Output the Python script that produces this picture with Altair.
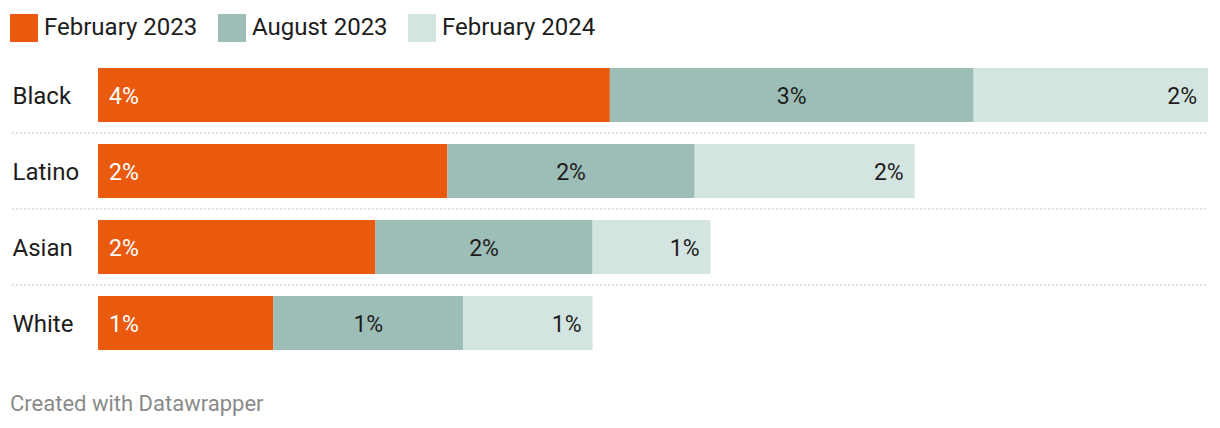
import altair as alt
import pandas as pd

categories = ["Black", "Latino", "Asian", "White"]
periods = ["February 2023", "August 2023", "February 2024"]
colors = ["#e95a0e", "#9dbdb7", "#d4e5e1"]

feb_2023 = [3.56, 2.43, 1.93, 1.22]
aug_2023 = [2.53, 1.72, 1.51, 1.32]
feb_2024 = [1.63, 1.53, 0.82, 0.90]

feb_2023_labels = ["4%", "2%", "2%", "1%"]
aug_2023_labels = ["3%", "2%", "2%", "1%"]
feb_2024_labels = ["2%", "2%", "1%", "1%"]

footer = "Created with Datawrapper"

rows = []
for i, cat in enumerate(categories):
    start = 0.0
    for p, vals, labs in zip(periods, [feb_2023, aug_2023, feb_2024],
                             [feb_2023_labels, aug_2023_labels, feb_2024_labels]):
        v = vals[i]
        rows.append({"category": cat, "period": p, "value": v,
                     "start": start, "end": start + v,
                     "mid": start + v / 2, "label": labs[i]})
        start += v
df = pd.DataFrame(rows)

xmax = max(a + b + c for a, b, c in zip(feb_2023, aug_2023, feb_2024))
xscale = alt.Scale(domain=[0, xmax], nice=False, zero=True)
yscale = alt.Scale(domain=categories, paddingInner=22 / 76, paddingOuter=11 / 76)

base = alt.Chart(df)

yenc = alt.Y("category:N", sort=categories, scale=yscale, title=None,
             axis=alt.Axis(domain=False, ticks=False, labelAlign="left",
                           labelPadding=86, labelFontSize=24, labelColor="#1d1d1d",
                           labelFont="Roboto", labelBaseline="middle", labelOffset=2))

bars = base.mark_bar().encode(
    x=alt.X("start:Q", scale=xscale, axis=None),
    x2="end:Q",
    y=yenc,
    color=alt.Color("period:N", scale=alt.Scale(domain=periods, range=colors),
                    legend=alt.Legend(orient="none", legendX=-88, legendY=-43,
                                      direction="horizontal", title=None,
                                      symbolType="square", symbolSize=784,
                                      symbolStrokeWidth=0, symbolOpacity=1,
                                      labelFontSize=24, labelColor="#1d1d1d",
                                      labelFont="Roboto", labelOffset=6,
                                      columnPadding=20, padding=0)),
)

sep_df = pd.DataFrame({"category": categories[1:]})
seps = alt.Chart(sep_df).mark_rule(color="#cccccc", strokeWidth=1, strokeDash=[2, 2],
                                   yOffset=-38).encode(
    y=alt.Y("category:N", sort=categories, scale=yscale),
    x=alt.value(-86),
    x2=alt.value(1110),
)

txt_first = base.transform_filter(alt.datum.period == periods[0]).mark_text(
    align="left", baseline="middle", dx=11, dy=1.5, fontSize=23, color="white", font="Roboto"
).encode(x=alt.X("start:Q", scale=xscale), y=alt.Y("category:N", sort=categories, scale=yscale), text="label:N")

txt_mid = base.transform_filter(alt.datum.period == periods[1]).mark_text(
    align="center", baseline="middle", dy=1.5, fontSize=23, color="#1d1d1d", font="Roboto"
).encode(x=alt.X("mid:Q", scale=xscale), y=alt.Y("category:N", sort=categories, scale=yscale), text="label:N")

txt_last = base.transform_filter(alt.datum.period == periods[2]).mark_text(
    align="right", baseline="middle", dx=-11, dy=1.5, fontSize=23, color="#1d1d1d", font="Roboto"
).encode(x=alt.X("end:Q", scale=xscale), y=alt.Y("category:N", sort=categories, scale=yscale), text="label:N")

foot = alt.Chart(pd.DataFrame({"t": [footer]})).mark_text(
    align="left", baseline="alphabetic", fontSize=22, color="#8a8a8a", font="Roboto"
).encode(text="t:N", x=alt.value(-88), y=alt.value(354))

chart = alt.layer(seps, bars, txt_first, txt_mid, txt_last, foot).properties(
    width=1110, height=304,
    autosize=alt.AutoSizeParams(type="none"),
    padding={"left": 90, "top": 49, "right": 4, "bottom": 59},
).configure(font="Roboto").configure_view(stroke=None)

chart.save("out.html", embed_options={"renderer": "svg", "actions": False})
